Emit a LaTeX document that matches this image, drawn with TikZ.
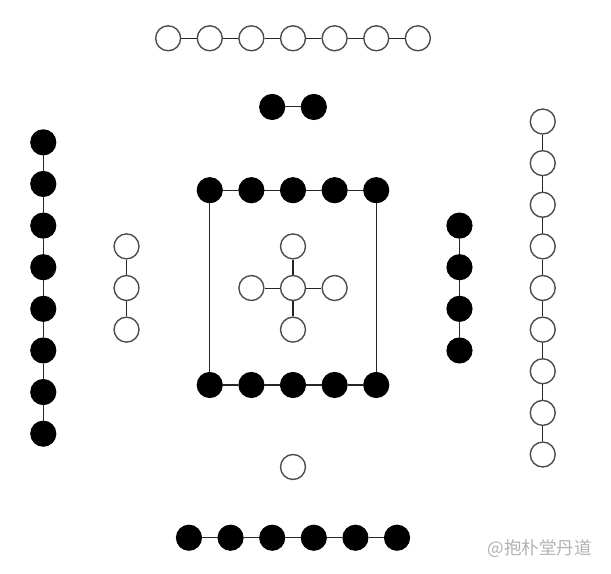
\documentclass[tikz,border=0pt]{standalone}
\usepackage{fontspec}
\newfontfamily\cjk{Noto Sans CJK SC}

\begin{document}
\begin{tikzpicture}[
        yang/.style={circle,draw=black!70,fill=white,line width=0.95pt,minimum size=0.6cm,inner sep=0pt},
        yin/.style={circle,draw=black,fill=black,line width=0.8pt,minimum size=0.6cm,inner sep=0pt},
        link/.style={line width=0.7pt,black!85}]
        \useasboundingbox (-7.04,-6.85) rectangle (7.64,6.92);
        % top: seven
        \foreach \i in {1,...,7} \node[yang] (t\i) at (\i-4,6) {};
        \foreach \i [remember=\i as \p (initially 1)] in {2,...,7} \draw[link] (t\p) -- (t\i);
        % two
        \node[yin] (u1) at (-0.5,4.35) {};
        \node[yin] (u2) at (0.5,4.35) {};
        \draw[link] (u1) -- (u2);
        % left: eight
        \foreach \i in {1,...,8} \node[yin] (l\i) at (-6,4.5-\i) {};
        \foreach \i [remember=\i as \p (initially 1)] in {2,...,8} \draw[link] (l\p) -- (l\i);
        % three
        \foreach \i in {1,2,3} \node[yang] (m\i) at (-4,2-\i) {};
        \draw[link] (m1) -- (m2) -- (m3);
        % centre: ten
        \foreach \i in {1,...,5} {
          \node[yin] (a\i) at (\i-3,2.35) {};
          \node[yin] (b\i) at (\i-3,-2.33) {};
        }
        \foreach \i [remember=\i as \p (initially 1)] in {2,...,5} {
          \draw[link] (a\p) -- (a\i);
          \draw[link] (b\p) -- (b\i);
        }
        \draw[link] (a1) -- (b1);
        \draw[link] (a5) -- (b5);
        % five
        \node[yang] (c) at (0,0) {};
        \node[yang] (cn) at (0,1) {};
        \node[yang] (cs) at (0,-1) {};
        \node[yang] (cw) at (-1,0) {};
        \node[yang] (ce) at (1,0) {};
        \draw[link] (c) -- (cn);
        \draw[link] (c) -- (cs);
        \draw[link] (c) -- (cw);
        \draw[link] (c) -- (ce);
        % four
        \foreach \i in {1,...,4} \node[yin] (r\i) at (4,2.5-\i) {};
        \foreach \i [remember=\i as \p (initially 1)] in {2,...,4} \draw[link] (r\p) -- (r\i);
        % right: nine
        \foreach \i in {1,...,9} \node[yang] (s\i) at (6,5-\i) {};
        \foreach \i [remember=\i as \p (initially 1)] in {2,...,9} \draw[link] (s\p) -- (s\i);
        % one
        \node[yang] (o) at (0,-4.3) {};
        % bottom: six
        \foreach \i in {1,...,6} \node[yin] (d\i) at (\i-3.5,-6) {};
        \foreach \i [remember=\i as \p (initially 1)] in {2,...,6} \draw[link] (d\p) -- (d\i);
        \node[text=black!30,font=\cjk\fontsize{12}{12}\selectfont,anchor=east] (wm) at (7.31,-6.27) {@抱朴堂丹道};
      \end{tikzpicture}
\end{document}
